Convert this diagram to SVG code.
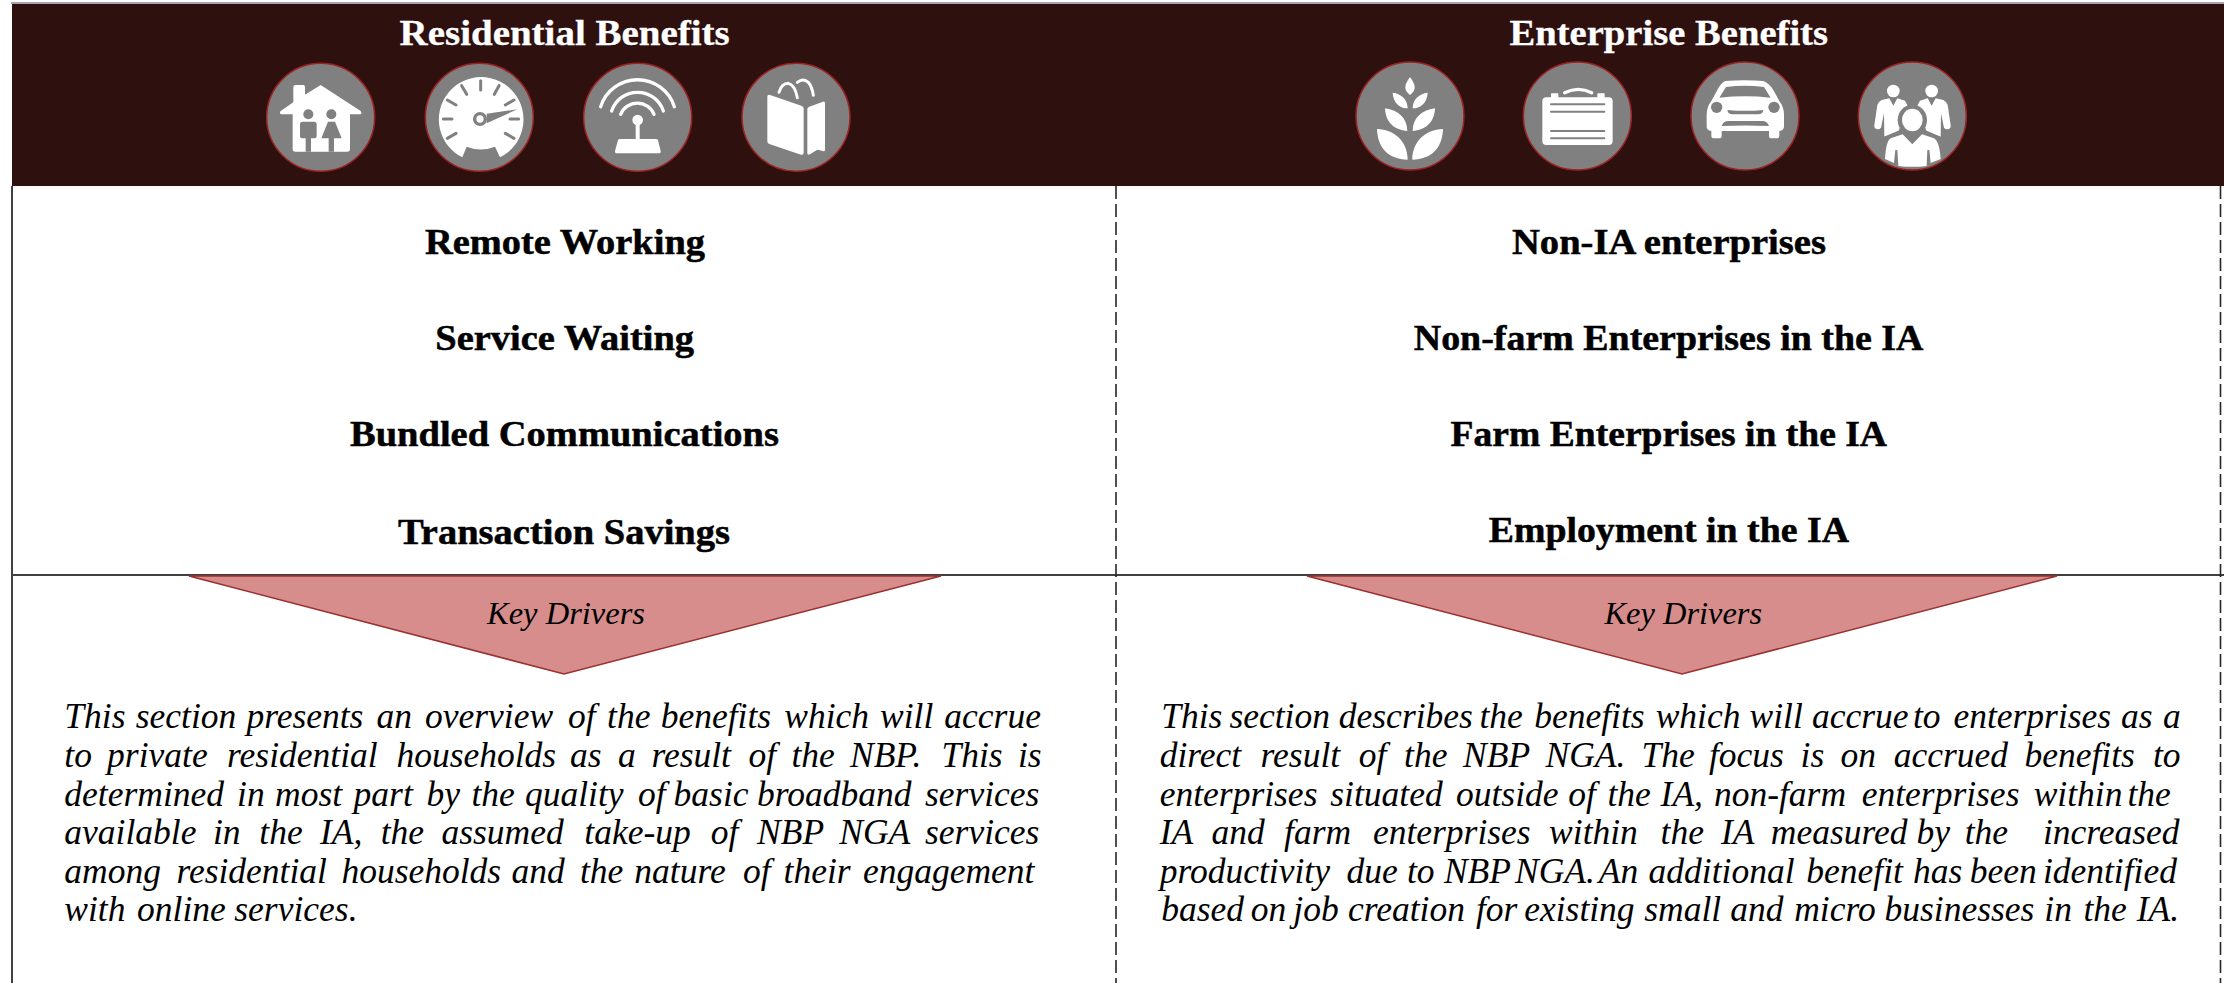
<svg xmlns="http://www.w3.org/2000/svg" width="2224" height="983" viewBox="0 0 2224 983">
<style>
text{font-family:"Liberation Serif","Times New Roman",serif}
.h{font-size:36px;font-weight:700;fill:#fff;stroke:#fff;stroke-width:.3}
.i{font-size:36px;font-weight:700;fill:#000;stroke:#000;stroke-width:.5}
.k{font-size:32px;font-style:italic;fill:#000}
.b{font-size:35.500px;font-style:italic;fill:#000}
.c{fill:#808080;stroke:#9c2222;stroke-width:4.500}
.w{fill:#fff}
.g{fill:#808080}
.ws{fill:none;stroke:#fff;stroke-linecap:round}
.gs{fill:none;stroke:#808080;stroke-linecap:round}
.tri{fill:#d68d8b;stroke:#9c3030;stroke-width:1.500}
</style>
<rect width="2224" height="983" fill="#fff"/>
<g id="connectors" fill="none">
<path d="M11 3H2224" stroke="#a6a6a6" stroke-width="2"/>
<path d="M12 186V983" stroke="#404040" stroke-width="2"/>
<path d="M12 575H2224" stroke="#404040" stroke-width="2"/>
<path d="M1116 186V983M2220.500 186V983" stroke="#262626" stroke-width="1.600" stroke-dasharray="13 5"/>
</g>
<g id="header"><rect x="12" y="4" width="2212" height="182" fill="#2e100f"/>
<text class="h" x="399.600" y="45" textLength="330" lengthAdjust="spacingAndGlyphs">Residential Benefits</text>
<text class="h" x="1509.500" y="45" textLength="318.500" lengthAdjust="spacingAndGlyphs">Enterprise Benefits</text></g>

<g id="icon-house" transform="translate(260 55) scale(.33333)">
<circle class="c" cx="182" cy="187" r="162"/>
<path class="w" d="M182 90L302 168Q308 178 298 178H270V282Q270 290 262 290H106Q98 290 98 282V178H66Q56 176 62 168L100 142V96Q100 90 106 90H130Q135 90 135 96V119Z"/>
<circle class="g" cx="145" cy="178" r="15"/><circle class="g" cx="214" cy="178" r="15"/>
<path class="g" d="M128 200H162Q170 200 170 208V242Q170 250 162 250H153V290H137V250H128Q120 250 120 242V208Q120 200 128 200ZM204 200H225L245 250H222V290H206V250H184Z"/>
</g>

<g id="icon-gauge" transform="translate(260 55) scale(.33333)">
<circle class="c" cx="658" cy="187" r="162"/>
<path class="w" d="M607 307A127 127 0 1 1 720 307L705 275Q662 292 620 275Z"/>
<path class="gs" stroke-width="9" d="M662 77V105M605 92L620 118M717 92L703 118M562 135L588 150M762 135L736 150M550 192H576M750 192H776M562 250L588 235M762 250L736 235"/>
<path class="g" d="M772 163L680 176V205Z"/>
<circle class="g" cx="660" cy="192" r="21"/><circle class="w" cx="660" cy="192" r="11"/>
</g>

<g id="icon-antenna" transform="translate(580 55) scale(.33333)">
<circle class="c" cx="173" cy="187" r="162"/>
<path class="ws" stroke-width="10" d="M62 155A116 116 0 0 1 283 155M95 168A81.600 81.600 0 0 1 250 168M122 178A54 54 0 0 1 222 178"/>
<circle class="w" cx="173" cy="195" r="16"/><rect class="w" x="167" y="195" width="12" height="60"/>
<path class="w" d="M120 252H228Q233 252 234 256L242 288Q243 295 236 295H111Q104 295 105 288L114 256Q115 252 120 252Z"/>
</g>

<g id="icon-book" transform="translate(580 55) scale(.33333)">
<circle class="c" cx="648" cy="187" r="162"/>
<path class="w" d="M570 120L664 152Q671 155 671 160V293Q671 301 663 299L568 267Q562 265 562 259V125Q562 118 570 120ZM688 155L729 140Q735 138 735 145V284Q735 290 729 288L712 284L690 298Q682 302 682 294V162Q682 157 688 155Z"/>
<path class="ws" stroke-width="9" d="M597 112Q605 85 625 85Q645 90 652 128M652 82Q670 68 685 82Q696 95 700 121"/>
</g>

<g id="icon-plant" transform="translate(1345 55) scale(.33333)">
<circle class="c" cx="195" cy="183" r="162"/>
<path class="w" d="M195 67C206 80 209 92 209 98C209 106 202 115 195 120C188 115 181 106 181 98C181 92 184 80 195 67Z"/>
<path class="w" d="M143 113C170 116 188 135 188 160C165 160 145 145 143 113ZM248 113C221 116 203 135 203 160C226 160 246 145 248 113Z"/>
<path class="w" d="M120 160C160 165 187 190 187 228C150 225 122 205 120 160ZM270 160C230 165 203 190 203 228C240 225 268 205 270 160Z"/>
<path class="w" d="M96 222C150 224 188 260 188 314C130 312 98 280 96 222ZM294 222C240 224 202 260 202 314C260 312 292 280 294 222Z"/>
</g>

<g id="icon-case" transform="translate(1345 55) scale(.33333)">
<circle class="c" cx="697" cy="183" r="162"/>
<rect class="w" x="592" y="127" width="211" height="143" rx="12"/>
<rect class="w" x="618" y="115" width="22" height="14" rx="2"/><rect class="w" x="757" y="115" width="22" height="14" rx="2"/>
<path class="ws" stroke-width="10" d="M659 113Q700 93 740 113"/>
<path class="gs" stroke-width="6" d="M618 148H778M618 170H778M618 228H778M618 250H778"/>
</g>

<g id="icon-car" transform="translate(1680 55) scale(.33333)">
<circle class="c" cx="195" cy="183" r="162"/>
<path class="w" d="M135 78Q195 73 250 78Q268 85 280 105L298 138Q312 155 312 180V215Q312 225 298 228V242Q298 250 290 250H275Q267 250 267 242V228H125V242Q125 250 117 250H102Q94 250 94 242V228Q80 225 80 215V180Q80 155 94 138L112 105Q122 85 135 78Z"/>
<path class="g" d="M118 128L138 96Q195 88 252 96L272 128Q195 120 118 128Z"/>
<circle class="g" cx="110" cy="157" r="17"/><circle class="g" cx="282" cy="157" r="17"/>
<path class="g" d="M142 165Q195 170 250 165Q248 178 235 178H157Q144 178 142 165ZM125 213Q130 198 145 198H247Q262 198 267 213Q195 210 125 213Z"/>
</g>

<g id="icon-people" transform="translate(1680 55) scale(.33333)">
<circle class="c" cx="697" cy="183" r="162"/>
<circle class="w" cx="640" cy="108" r="19"/><circle class="w" cx="755" cy="108" r="19"/>
<path class="w" d="M605 135L628 130L640 152L652 130L675 137L690 165L660 215L655 232L613 245L612 175L603 218Q596 226 585 220Q582 215 583 210L592 150Q595 140 605 135Z"/>
<path class="w" d="M790 135L767 130L755 152L743 130L720 137L705 165L735 215L740 232L782 245L783 175L792 218Q799 226 810 220Q813 215 812 210L803 150Q800 140 790 135Z"/>
<ellipse class="g" cx="697" cy="195" rx="44" ry="46"/>
<path class="g" d="M612 245L660 225H735L782 245L790 280H605Z"/>
<ellipse class="w" cx="697" cy="195" rx="31" ry="34"/>
<path class="w" d="M632 250L668 238L697 268L726 238L762 250Q778 258 782 312L752 324L748 285H742L740 333Q697 338 655 333L652 285H646L642 324L615 312Q618 258 632 250Z"/>
</g>

<g id="residential-items">
<text class="i" x="425" y="254" textLength="280" lengthAdjust="spacingAndGlyphs">Remote Working</text>
<text class="i" x="435.300" y="350" textLength="258.700" lengthAdjust="spacingAndGlyphs">Service Waiting</text>
<text class="i" x="350" y="446" textLength="429" lengthAdjust="spacingAndGlyphs">Bundled Communications</text>
<text class="i" x="398" y="544" textLength="332" lengthAdjust="spacingAndGlyphs">Transaction Savings</text>
</g>
<g id="enterprise-items">
<text class="i" x="1512" y="254" textLength="314" lengthAdjust="spacingAndGlyphs">Non-IA enterprises</text>
<text class="i" x="1413.800" y="350" textLength="509.600" lengthAdjust="spacingAndGlyphs">Non-farm Enterprises in the IA</text>
<text class="i" x="1450.600" y="446" textLength="436.400" lengthAdjust="spacingAndGlyphs">Farm Enterprises in the IA</text>
<text class="i" x="1488.700" y="542" textLength="360.300" lengthAdjust="spacingAndGlyphs">Employment in the IA</text>
</g>
<g id="drivers-left"><path class="tri" d="M189 576H941L564 674Z"/><text class="k" x="487" y="624" textLength="158" lengthAdjust="spacingAndGlyphs">Key Drivers</text></g>
<g id="drivers-right"><path class="tri" d="M1307 576H2057L1682 674Z"/><text class="k" x="1604.500" y="624" textLength="157.500" lengthAdjust="spacingAndGlyphs">Key Drivers</text></g>

<g id="residential-text">
<text class="b" y="728"><tspan x="64.300">This</tspan> <tspan x="135.700">section</tspan> <tspan x="246.400">presents</tspan> <tspan x="376.400">an</tspan> <tspan x="425">overview</tspan> <tspan x="567.900">of</tspan> <tspan x="607.100">the</tspan> <tspan x="660.700">benefits</tspan> <tspan x="784.300">which</tspan> <tspan x="880">will</tspan> <tspan x="944.300">accrue</tspan></text>
<text class="b" y="767"><tspan x="64.300">to</tspan> <tspan x="107.100">private</tspan> <tspan x="227.100">residential</tspan> <tspan x="396.400">households</tspan> <tspan x="570">as</tspan> <tspan x="617.900">a</tspan> <tspan x="651.400">result</tspan> <tspan x="748.600">of</tspan> <tspan x="791.400">the</tspan> <tspan x="850">NBP.</tspan> <tspan x="941.400">This</tspan> <tspan x="1017.900">is</tspan></text>
<text class="b" y="806"><tspan x="64.300">determined</tspan> <tspan x="237.100">in</tspan> <tspan x="275">most</tspan> <tspan x="353.600">part</tspan> <tspan x="426.400">by</tspan> <tspan x="471.400">the</tspan> <tspan x="525">quality</tspan> <tspan x="637.900">of</tspan> <tspan x="673.600">basic</tspan> <tspan x="757.100">broadband</tspan> <tspan x="925">services</tspan></text>
<text class="b" y="844"><tspan x="64.300">available</tspan> <tspan x="212.900">in</tspan> <tspan x="259.300">the</tspan> <tspan x="320">IA,</tspan> <tspan x="380.700">the</tspan> <tspan x="441.400">assumed</tspan> <tspan x="584.300">take-up</tspan> <tspan x="710.700">of</tspan> <tspan x="757.100">NBP</tspan> <tspan x="839.300">NGA</tspan> <tspan x="925">services</tspan></text>
<text class="b" y="883"><tspan x="64.300">among</tspan> <tspan x="176.400">residential</tspan> <tspan x="341.400">households</tspan> <tspan x="511.400">and</tspan> <tspan x="580">the</tspan> <tspan x="634.300">nature</tspan> <tspan x="742.900">of</tspan> <tspan x="783.600">their</tspan> <tspan x="862.900">engagement</tspan></text>
<text class="b" y="921"><tspan x="64.300">with</tspan> <tspan x="137.100">online</tspan> <tspan x="234.300">services.</tspan></text>
</g>
<g id="enterprise-text">
<text class="b" y="728"><tspan x="1161.200">This</tspan> <tspan x="1229.400">section</tspan> <tspan x="1338.800">describes</tspan> <tspan x="1479.500">the</tspan> <tspan x="1534.200">benefits</tspan> <tspan x="1655.700">which</tspan> <tspan x="1749.500">will</tspan> <tspan x="1812">accrue</tspan> <tspan x="1912.900">to</tspan> <tspan x="1953.400">enterprises</tspan> <tspan x="2121">as</tspan> <tspan x="2163">a</tspan></text>
<text class="b" y="767"><tspan x="1159.700">direct</tspan> <tspan x="1260.600">result</tspan> <tspan x="1358.700">of</tspan> <tspan x="1404.100">the</tspan> <tspan x="1463.100">NBP</tspan> <tspan x="1545.500">NGA.</tspan> <tspan x="1641.500">The</tspan> <tspan x="1709">focus</tspan> <tspan x="1800.600">is</tspan> <tspan x="1840.400">on</tspan> <tspan x="1893.700">accrued</tspan> <tspan x="2024.400">benefits</tspan> <tspan x="2153">to</tspan></text>
<text class="b" y="806"><tspan x="1159.700">enterprises</tspan> <tspan x="1330.300">situated</tspan> <tspan x="1456">outside</tspan> <tspan x="1568.300">of</tspan> <tspan x="1607.400">the</tspan> <tspan x="1660.600">IA,</tspan> <tspan x="1713.900">non-farm</tspan> <tspan x="1861.700">enterprises</tspan> <tspan x="2033.700">within</tspan> <tspan x="2127.400">the</tspan></text>
<text class="b" y="844"><tspan x="1159.700">IA</tspan> <tspan x="1211.600">and</tspan> <tspan x="1284.100">farm</tspan> <tspan x="1372.900">enterprises</tspan> <tspan x="1549.100">within</tspan> <tspan x="1660.600">the</tspan> <tspan x="1721">IA</tspan> <tspan x="1770.800">measured</tspan> <tspan x="1916.400">by</tspan> <tspan x="1964.700">the</tspan> <tspan x="2042.900">increased</tspan></text>
<text class="b" y="883"><tspan x="1159.700">productivity</tspan> <tspan x="1346.600">due</tspan> <tspan x="1407">to</tspan> <tspan x="1443.900">NBP</tspan> <tspan x="1515">NGA.</tspan> <tspan x="1598.800">An</tspan> <tspan x="1648.600">additional</tspan> <tspan x="1806.300">benefit</tspan> <tspan x="1912.900">has</tspan> <tspan x="1969.700">been</tspan> <tspan x="2042.900">identified</tspan></text>
<text class="b" y="921"><tspan x="1161.200">based</tspan> <tspan x="1250.700">on</tspan> <tspan x="1293.300">job</tspan> <tspan x="1348">creation</tspan> <tspan x="1475.900">for</tspan> <tspan x="1524.200">existing</tspan> <tspan x="1644.300">small</tspan> <tspan x="1730.300">and</tspan> <tspan x="1794.200">micro</tspan> <tspan x="1884.500">businesses</tspan> <tspan x="2044.300">in</tspan> <tspan x="2083.400">the</tspan> <tspan x="2136.700">IA.</tspan></text>
</g>
</svg>
